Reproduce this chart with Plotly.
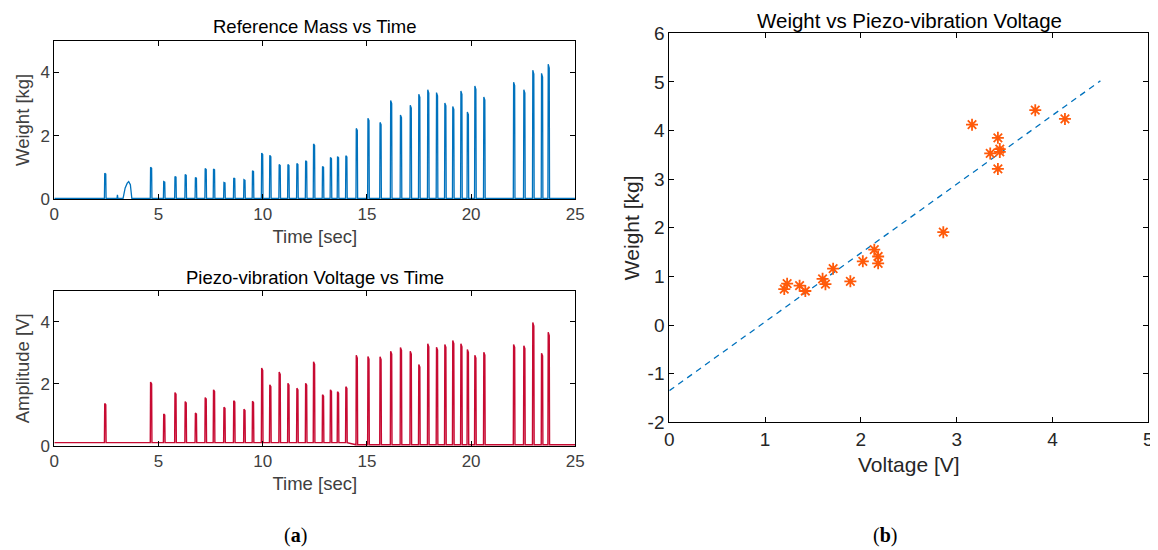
import numpy as np
import plotly.graph_objects as go

# peak times (s) shared by both time traces
peak_t = [2.42, 4.62, 5.25, 5.79, 6.28, 6.77, 7.24, 7.64, 8.14, 8.61, 9.10, 9.51,
          9.95, 10.34, 10.79, 11.21, 11.64, 12.06, 12.44, 12.87, 13.25, 13.59, 13.99,
          14.49, 15.05, 15.63, 16.14, 16.61, 17.08, 17.49, 17.92, 18.34, 18.74, 19.12,
          19.51, 19.82, 20.18, 20.61, 22.04, 22.53, 22.96, 23.38, 23.70]

# reference mass peaks [kg]
mass_peak = [0.81, 1.00, 0.55, 0.71, 0.77, 0.68, 0.96, 0.95, 0.52, 0.66, 0.61, 0.89,
             1.45, 1.38, 1.09, 1.09, 1.12, 1.21, 1.74, 1.03, 1.31, 1.34, 1.37,
             2.23, 2.55, 2.42, 3.11, 2.65, 2.96, 3.31, 3.45, 3.36, 3.03, 2.92,
             3.41, 2.75, 3.57, 3.22, 3.69, 3.45, 4.07, 3.97, 4.26]

# slow bump in the mass signal before the first real drop
bump_t = [3.01, 3.03, 3.05, 3.30, 3.40, 3.50, 3.57, 3.65, 3.72]
bump_w = [0.02, 0.13, 0.02, 0.02, 0.35, 0.50, 0.55, 0.45, 0.02]

# piezo voltage peaks [V]
volt_peak = [1.37, 2.06, 1.03, 1.72, 1.43, 1.06, 1.56, 1.81, 1.25, 1.46, 1.18, 1.44,
             2.51, 1.97, 2.38, 2.02, 1.86, 2.02, 2.71, 1.65, 1.81, 1.75, 1.91,
             2.92, 2.88, 2.87, 3.05, 3.17, 3.05, 2.62, 3.29, 3.18, 3.27, 3.40,
             3.29, 3.11, 2.92, 3.02, 3.27, 3.23, 3.98, 2.99, 3.66]
volt_base_before = 0.11   # offset up to ~14.4 s
volt_base_after = 0.04

# calibration scatter
voltage = [1.20, 1.23, 1.36, 1.42, 1.60, 1.63, 1.71, 1.89, 2.02, 2.14, 2.18, 2.18,
           2.86, 3.16, 3.35, 3.43, 3.45, 3.45, 3.43, 3.82, 4.13]
weight = [0.74, 0.85, 0.81, 0.70, 0.95, 0.84, 1.16, 0.90, 1.31, 1.55, 1.41, 1.27,
          1.91, 4.12, 3.53, 3.85, 3.62, 3.56, 3.21, 4.42, 4.24]
fit_slope = 1.416
fit_icpt = -1.35
fit_x = [0, 4.5]

BLUE = "#0072BD"
RED = "#C70A32"
ORANGE = "#FF5A0A"
WIN_W, WIN_H = 1158, 550
OFF = 8  # page body margin
W, H = WIN_W - OFF, WIN_H - OFF


def pulses(times, peaks, base_fn, extra=None):
    xs, ys = [0.0], [base_fn(0.0)]
    for i, (t, p) in enumerate(zip(times, peaks)):
        b = base_fn(t)
        xs += [t - 0.015, t, t + 0.05, t + 0.065]
        ys += [b, p, p * 0.97, b]
        # slot the slow bump in right after the pulse it follows
        if extra is not None and t < extra[0][0] < times[i + 1]:
            xs += list(extra[0])
            ys += list(extra[1])
            extra = None
    xs.append(25.0)
    ys.append(base_fn(25.0))
    return xs, ys


def mass_base(t):
    return 0.02


def volt_base(t):
    return volt_base_before if t < 14.4 else volt_base_after


mx, my = pulses(peak_t, mass_peak, mass_base, (bump_t, bump_w))
vx, vy = pulses(peak_t, volt_peak, volt_base)


# window pixel -> paper fraction
def px(x0, x1):
    return [(x0 - OFF) / W, (x1 - OFF) / W]


def py(top, bottom):
    return [1 - (bottom - OFF) / H, 1 - (top - OFF) / H]


def ppx(x):
    return (x - OFF) / W


def ppy(y):
    return 1 - (y - OFF) / H


fig = go.Figure()
fig.add_trace(go.Scatter(x=mx, y=my, mode="lines", line=dict(color=BLUE, width=1.3),
                         xaxis="x", yaxis="y", showlegend=False))
fig.add_trace(go.Scatter(x=vx, y=vy, mode="lines", line=dict(color=RED, width=1.4),
                         xaxis="x2", yaxis="y2", showlegend=False))
fit_y = [fit_slope * x + fit_icpt for x in fit_x]
fig.add_trace(go.Scatter(x=fit_x, y=fit_y, mode="lines",
                         line=dict(color=BLUE, width=1.3, dash="6px,5px"),
                         xaxis="x3", yaxis="y3", showlegend=False))
fig.add_trace(go.Scatter(x=voltage, y=weight, mode="markers",
                         marker=dict(symbol="asterisk-open", size=10, color=ORANGE,
                                     line=dict(color=ORANGE, width=1.8)),
                         xaxis="x3", yaxis="y3", showlegend=False))

SANS = "Liberation Sans, Arial"
left_tick = dict(family=SANS, size=17, color="#404040")
left_lab = dict(family=SANS, size=18.5, color="#404040")
right_tick = dict(family=SANS, size=19, color="#262626")
right_lab = dict(family=SANS, size=21, color="#262626")

common = dict(showgrid=False, zeroline=False, showline=True, linecolor="black",
              linewidth=1, mirror="ticks", ticks="inside", ticklen=5,
              tickcolor="black", automargin=False)

y3_vals = list(range(-2, 7))

fig.update_layout(
    width=W, height=H, margin=dict(l=0, r=0, t=0, b=0),
    paper_bgcolor="white", plot_bgcolor="white",
    xaxis=dict(domain=px(54.3, 575.3), range=[0, 25], tickvals=[0, 5, 10, 15, 20, 25],
               anchor="y", tickfont=left_tick,
               title=dict(text="Time [sec]", font=left_lab, standoff=6), **common),
    yaxis=dict(domain=py(40.7, 199), range=[0, 5], tickvals=[0, 2, 4], anchor="x",
               tickfont=left_tick,
               title=dict(text="Weight [kg]", font=left_lab, standoff=5), **common),
    xaxis2=dict(domain=px(54.3, 575.3), range=[0, 25], tickvals=[0, 5, 10, 15, 20, 25],
                anchor="y2", tickfont=left_tick,
                title=dict(text="Time [sec]", font=left_lab, standoff=6), **common),
    yaxis2=dict(domain=py(290.7, 446), range=[0, 5], tickvals=[0, 2, 4], anchor="x2",
                tickfont=left_tick,
                title=dict(text="Amplitude [V]", font=left_lab, standoff=5), **common),
    xaxis3=dict(domain=px(669.3, 1148.3), range=[0, 5], dtick=1, anchor="y3",
                tickfont=right_tick,
                title=dict(text="Voltage [V]", font=right_lab, standoff=8), **common),
    yaxis3=dict(domain=py(33.3, 422.3), range=[-2, 6], tickvals=y3_vals,
                ticktext=[str(v) for v in y3_vals], anchor="x3",
                tickfont=right_tick,
                title=dict(text="Weight [kg]", font=right_lab, standoff=2), **common),
)

ann = [
    dict(text="Reference Mass vs Time", x=ppx(314.8), y=ppy(27),
         font=dict(family=SANS, size=18.5, color="black")),
    dict(text="Piezo-vibration Voltage vs Time", x=ppx(314.8), y=ppy(277),
         font=dict(family=SANS, size=18.5, color="black")),
    dict(text="Weight vs Piezo-vibration Voltage", x=ppx(909), y=ppy(20),
         font=dict(family=SANS, size=20.5, color="black")),
    dict(text="(<b>a</b>)", x=ppx(295), y=ppy(535),
         font=dict(family="Liberation Serif, serif", size=20, color="black")),
    dict(text="(<b>b</b>)", x=ppx(885), y=ppy(535),
         font=dict(family="Liberation Serif, serif", size=20, color="black")),
]
for a in ann:
    fig.add_annotation(xref="paper", yref="paper", showarrow=False,
                       xanchor="center", yanchor="middle", **a)

fig.write_html("out.html")
